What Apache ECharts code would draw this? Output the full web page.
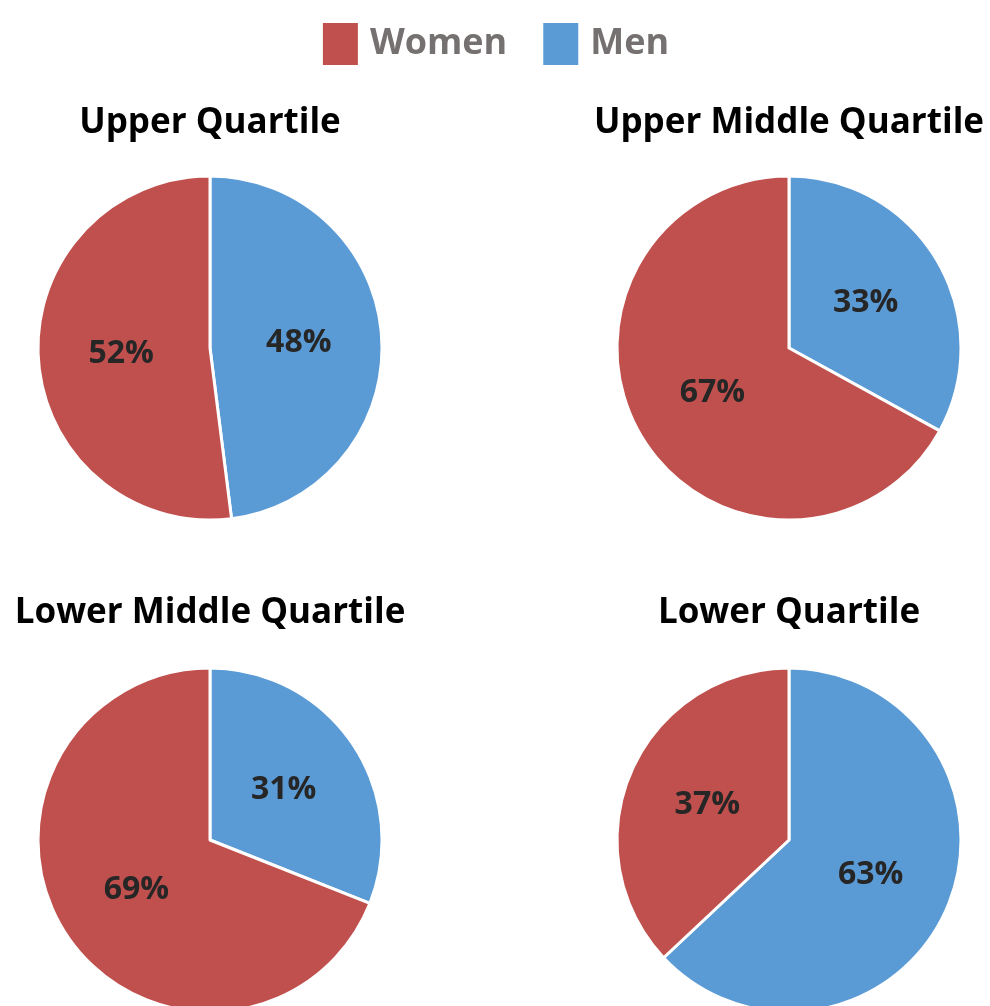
<!DOCTYPE html>
<html>
<head>
<meta charset="utf-8">
<script src="https://cdn.jsdelivr.net/npm/echarts@6/dist/echarts.min.js"></script>
<style>
  html, body { margin: 0; padding: 0; background: #fff; }
  #chart { width: 990px; height: 1006px; }
</style>
</head>
<body>
<div id="chart"></div>
<script>
const groups = ['Men', 'Women'];
const quartiles = ['Upper Quartile', 'Upper Middle Quartile', 'Lower Middle Quartile', 'Lower Quartile'];
const menPct = [48, 33, 31, 63];
const womenPct = [52, 67, 69, 37];

const FONT = "'Open Sans','DejaVu Sans',sans-serif";
const colors = { Women: '#C0504D', Men: '#5B9BD5' };
const centers = [[210, 348], [789, 348], [210, 840], [789, 840]];
const titleY = [106, 106, 596, 596];

const chart = echarts.init(document.getElementById('chart'));
chart.setOption({
  animation: false,
  legend: {
    data: ['Women', 'Men'],
    top: 16,
    left: 'center',
    itemWidth: 37,
    itemHeight: 44,
    itemGap: 34,
    icon: 'rect',
    textStyle: { fontSize: 36, fontWeight: 'bold', color: '#767171', fontFamily: FONT, padding: [0, 0, 0, 6] }
  },
  title: quartiles.map((q, i) => ({
    text: q,
    left: centers[i][0],
    top: titleY[i],
    padding: 0,
    textAlign: 'center',
    textStyle: { fontSize: 35, fontWeight: 'bold', color: '#000', fontFamily: FONT }
  })),
  series: quartiles.map((q, i) => ({
    type: 'pie',
    name: q,
    center: centers[i],
    radius: 172,
    startAngle: 90,
    clockwise: true,
    avoidLabelOverlap: false,
    itemStyle: { borderColor: '#fff', borderWidth: 3 },
    label: {
      position: 'inner',
      formatter: '{c}%',
      fontSize: 32,
      fontWeight: 'bold',
      color: '#262626',
      fontFamily: FONT
    },
    labelLine: { show: false },
    emphasis: { disabled: true },
    data: [
      { name: groups[0], value: menPct[i], itemStyle: { color: colors.Men } },
      { name: groups[1], value: womenPct[i], itemStyle: { color: colors.Women } }
    ]
  }))
});
</script>
</body>
</html>
